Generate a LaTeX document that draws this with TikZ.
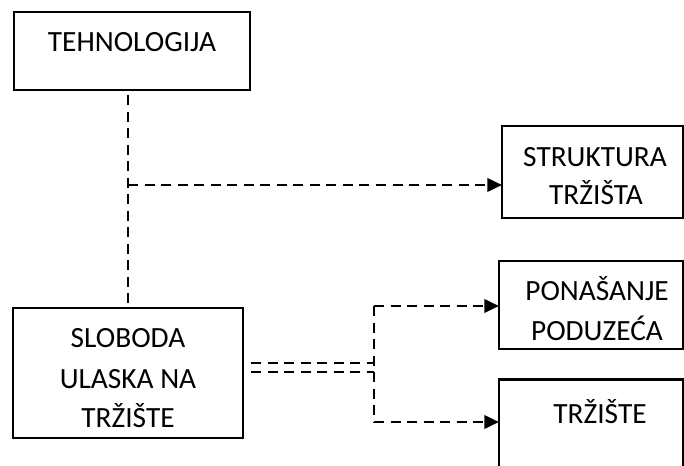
\documentclass[tikz,border=0pt]{standalone}
\usepackage{fontspec}
\setmainfont{Carlito}
\usetikzlibrary{arrows.meta}
\tikzset{
  box/.style={draw, line width=1.75pt, inner sep=0pt, outer sep=0pt, rectangle},
  lbl/.style={anchor=base, inner sep=0pt, font=\fontsize{22}{30}\selectfont},
  dsh/.style={line width=2pt, dash pattern=on 7.5pt off 4.9pt},
  arr/.style={dsh, -{Triangle[length=11pt,width=10pt]}}
}
\begin{document}
\begin{tikzpicture}[x=0.75pt,y=-0.75pt]
\useasboundingbox (0,0) rectangle (684,466);
\clip (0,0) rectangle (684,466);
% boxes
\node[box, minimum width=177pt, minimum height=58.5pt] (teh) at (132,51) {};
\node[box, minimum width=135.75pt, minimum height=69pt] (str) at (592.5,172) {};
\node[box, minimum width=172.5pt, minimum height=97.5pt] (slo) at (128,373) {};
\node[box, minimum width=138pt, minimum height=66pt] (pon) at (591,305) {};
\node[box, minimum width=138pt, minimum height=75.75pt] (trz) at (591,430) {};
% labels
\node[lbl] (tehA) at (132,52) {TEHNOLOGIJA};
\node[lbl] (strA) at (595,167) {STRUKTURA};
\node[lbl] (strB) at (596,205) {TRŽIŠTA};
\node[lbl] (sloA) at (128,347) {SLOBODA};
\node[lbl] (sloB) at (128,388) {ULASKA NA};
\node[lbl] (sloC) at (128,427) {TRŽIŠTE};
\node[lbl] (ponA) at (597,300) {PONAŠANJE};
\node[lbl] (ponB) at (597,340) {PODUZEĆA};
\node[lbl] (trzA) at (600,423) {TRŽIŠTE};
% connectors
\coordinate (br) at (128,185);
\draw[dsh] (slo.north |- teh.south) ++(0,5) -- (slo.north);
\draw[arr] (br) -- (br -| str.west);
\coordinate (jt) at (374,306);
\coordinate (jb) at (374,422);
\coordinate (d1) at (251,363);
\coordinate (d2) at (251,372);
\draw[dsh] (d1) -- (d1 -| jt);
\draw[dsh] (d2) -- (d2 -| jt);
\draw[dsh] (jt) -- (jb);
\draw[arr] (jt) -- (jt -| pon.west);
\draw[arr] (jb) -- (jb -| trz.west);
\end{tikzpicture}
\end{document}
